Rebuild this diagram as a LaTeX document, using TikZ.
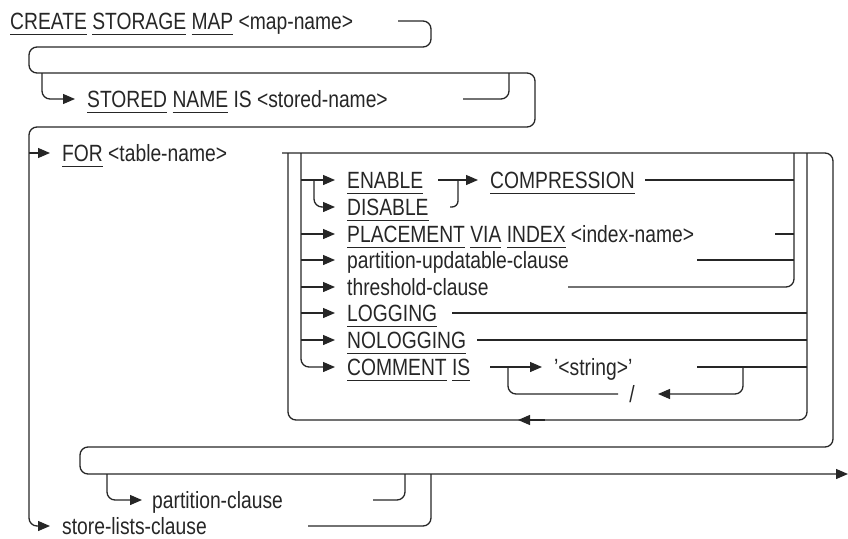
\documentclass[tikz,border=0pt]{standalone}
\usepackage{fontspec}
\setmainfont{Liberation Sans}[FakeStretch=0.82]
\usetikzlibrary{arrows.meta}
\definecolor{ink}{HTML}{262626}
\newcommand\kw[1]{\setbox0\hbox{#1}\rlap{\rule[-5.5pt]{\wd0}{0.9pt}}\box0\relax}
\begin{document}
\begin{tikzpicture}[x=1pt,y=-1pt,
  txt/.style={anchor=west, inner sep=0pt, text height=16pt, text depth=0pt,
              font=\fontsize{23.5}{27}\selectfont, text=ink},
  rail/.style={draw=ink, line width=1.3pt, rounded corners=8pt},
  arr/.style={rail, -{Triangle[length=12pt,width=10pt]}}]
\useasboundingbox (0,0) rectangle (848,538);
% text nodes
\node[txt] (create) at (10,21) {\kw{CREATE} \kw{STORAGE} \kw{MAP} <map-name>};
\node[txt] (stored) at (87,99) {\kw{STORED} \kw{NAME} IS <stored-name>};
\node[txt] (for) at (62,153) {\kw{FOR} <table-name>};
\node[txt] (enable) at (347,180) {\kw{ENABLE}};
\node[txt] (disable) at (347,207) {\kw{DISABLE}};
\node[txt] (compr) at (490,180) {\kw{COMPRESSION}};
\node[txt] (place) at (347,234) {\kw{PLACEMENT} \kw{VIA} \kw{INDEX} <index-name>};
\node[txt] (pu) at (347,260) {partition-updatable-clause};
\node[txt] (thr) at (347,287) {threshold-clause};
\node[txt] (log) at (347,313) {\kw{LOGGING}};
\node[txt] (nolog) at (347,340) {\kw{NOLOGGING}};
\node[txt] (comm) at (347,367) {\kw{COMMENT} \kw{IS}};
\node[txt] (str) at (554,367) {'<string>'};
\node[txt, anchor=center] (sl) at (632,394) {/};
\node[txt] (pc) at (152,500) {partition-clause};
\node[txt] (slc) at (62,526) {store-lists-clause};
% junction coordinates
\coordinate (vl) at (301,153);
\coordinate (g1) at (794,153);
\coordinate (g2) at (807,153);
% main rail
\draw[arr] (398,21) -- (431,21) -- (431,47) -- (29,47) -- (29,73) -- (535,73)
  -- (535,127) -- (29,127) -- (29,526) -- ([xshift=-12pt]slc.west);
\draw[arr] (29,153) -- ([xshift=-12pt]for.west);
% stored name
\draw[arr] (42,73) |- ([xshift=-12pt]stored.west);
\draw[rail] (463,99) -| (509,73);
% big frame
\draw[arr] (282,153) -- (833,153) -- (833,447) -- (80,447) -- (80,474) -- (848,474);
% repeat loop
\draw[rail] (g2) -- (807,420) -- (288,420) -- (288,153);
\draw[arr] (545,420) -- (518,420);
% options list
\draw[arr] (vl) |- ([xshift=-12pt]comm.west);
\foreach \n in {enable,place,pu,thr,log,nolog}
  \draw[arr] (\n.west -| vl) -- ([xshift=-12pt]\n.west);
\draw[arr] (314,180) |- ([xshift=-12pt]disable.west);
\draw[arr] (438,180) -- ([xshift=-12pt]compr.west);
\draw[rail, rounded corners=6pt] (450,207) -| (458,180);
\draw[rail] (645,180) -- (compr.east -| g1);
\draw[rail] (568,287) -| (g1);
\draw[rail] (775,234) -- (place.west -| g1);
\draw[rail] (697,260) -- (pu.west -| g1);
\draw[rail] (452,313) -- (log.west -| g2);
\draw[rail] (477,340) -- (nolog.west -| g2);
\draw[arr] (490,367) -- ([xshift=-12pt]str.west);
\draw[rail] (697,367) -- (str.west -| g2);
\draw[arr] (743,367) |- (658,394);
\draw[rail] (618,394) -| (508,367);
% partitions
\draw[arr] (107,474) |- ([xshift=-10pt]pc.west);
\draw[rail] (373,500) -| (405,474);
\draw[rail] (308,526) -| (431,474);
\end{tikzpicture}
\end{document}
